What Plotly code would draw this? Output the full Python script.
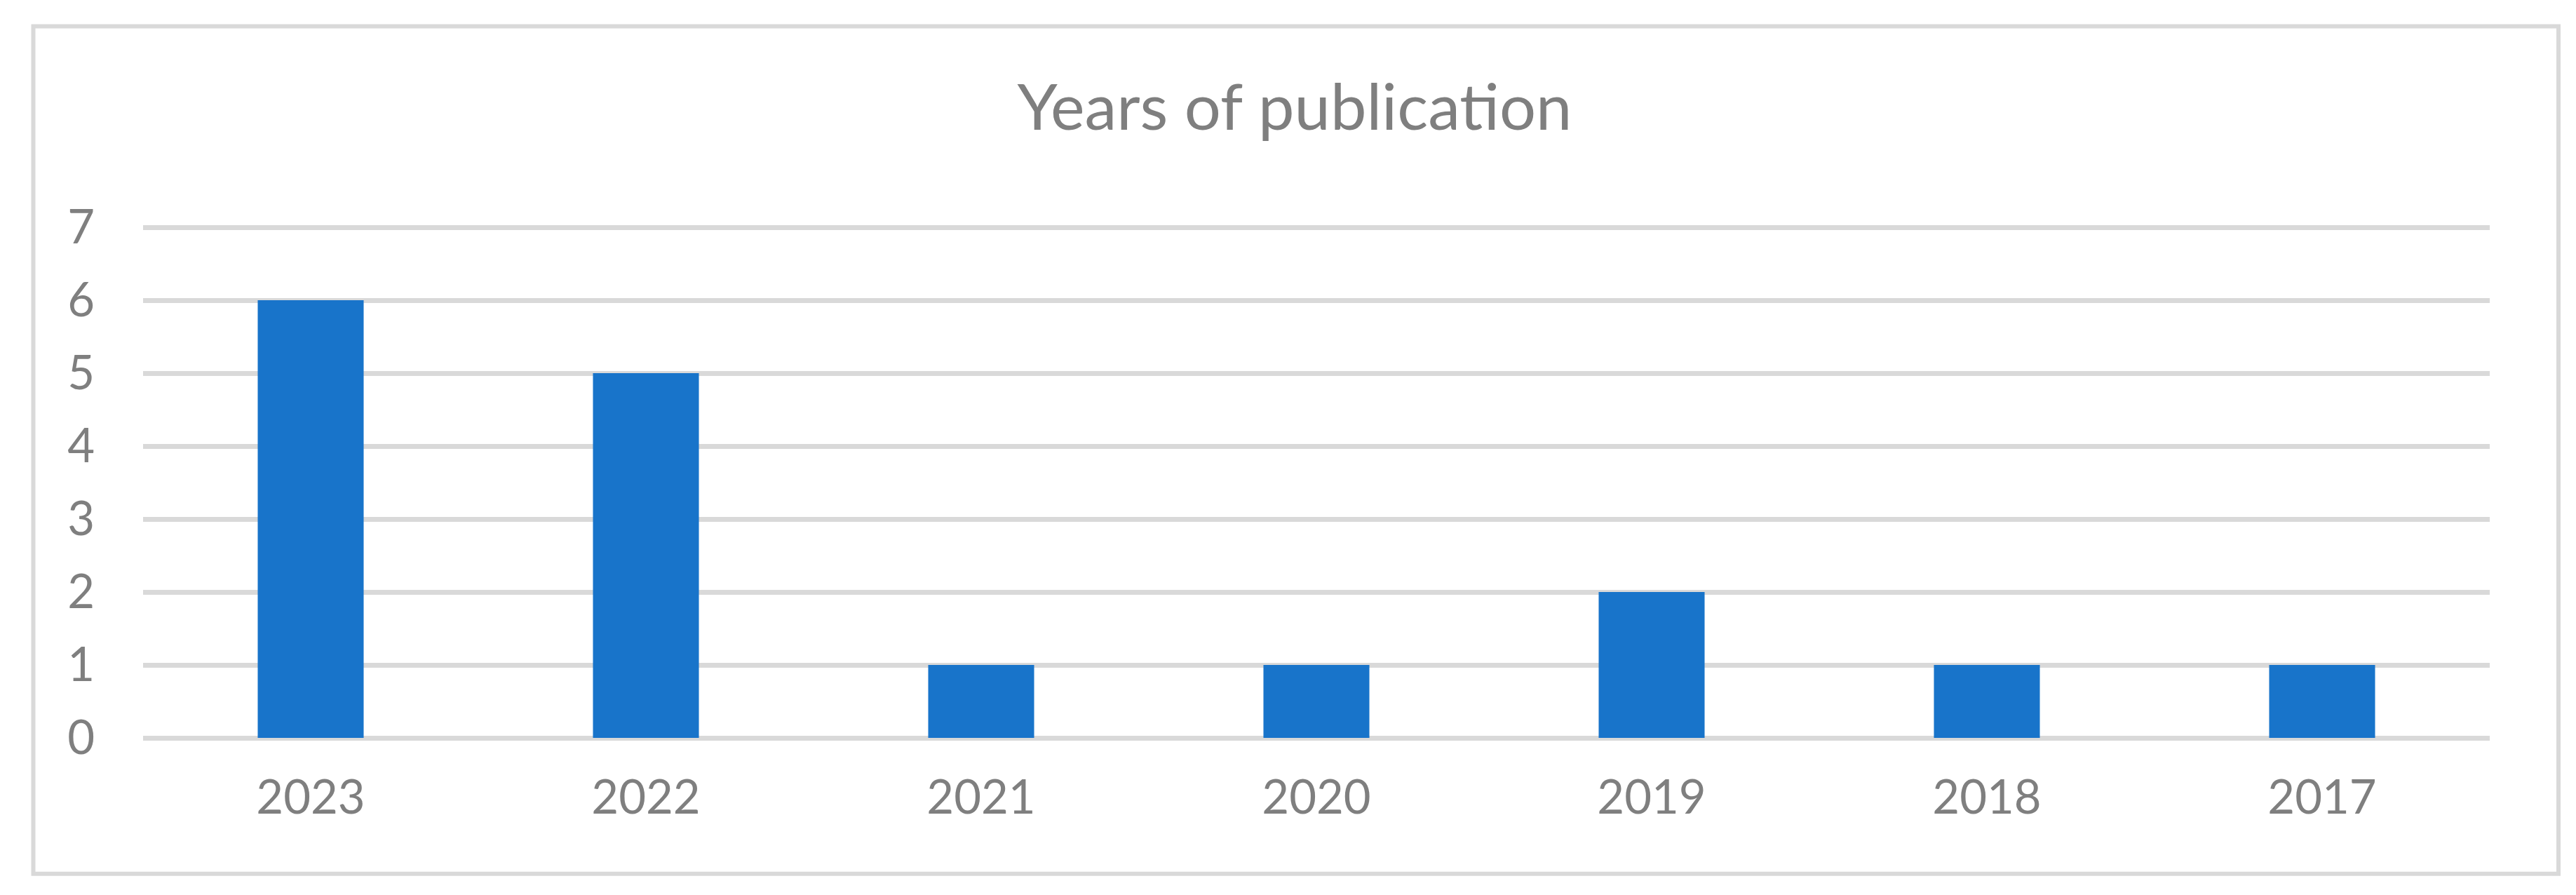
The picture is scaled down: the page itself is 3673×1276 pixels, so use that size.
import plotly.graph_objects as go

years = ["2023", "2022", "2021", "2020", "2019", "2018", "2017"]
counts = [6, 5, 1, 1, 2, 1, 1]
y_ticks = [0, 1, 2, 3, 4, 5, 6, 7]

W, H = 3673, 1276
L, R = 196, 3542          # plot area horizontal extent (px)
Y0_PX, Y7_PX = 1044.5, 315.5  # pixel rows of value 0 and value 7
UNIT = (Y0_PX - Y7_PX) / 7.0
PAD_PX = 3.0
PAD = PAD_PX / UNIT
T = Y7_PX - PAD_PX
B = Y0_PX + PAD_PX

def px_x(x):
    return (x - L) / (R - L)

def px_y(y):
    return (B - y) / (B - T)

fig = go.Figure(go.Bar(x=years, y=counts, marker=dict(color="#1874CA", line=dict(width=0)),
                       width=0.316))

fig.update_layout(
    width=W, height=H,
    margin=dict(l=L, r=W - R, t=T, b=H - B, pad=0),
    paper_bgcolor="white", plot_bgcolor="white",
    showlegend=False,
    font=dict(family="Lato, 'Open Sans', sans-serif", color="#7F7F7F"),
    title=dict(text="Years of publication", x=px_x(1838) * (R - L) / W + L / W,
               xanchor="center",
               yref="container", y=(H - 145) / H, yanchor="middle",
               font=dict(size=92, color="#7F7F7F")),
    xaxis=dict(type="category", showgrid=False, zeroline=False, showline=False,
               ticks="", tickfont=dict(size=67, color="#7F7F7F"), ticklabelstandoff=37),
    yaxis=dict(range=[-PAD, 7 + PAD], tickvals=y_ticks, showgrid=True, gridcolor="#D9D9D9",
               gridwidth=7, zeroline=False, showline=False, ticks="",
               tickfont=dict(size=67, color="#7F7F7F"), ticklabelstandoff=68),
    shapes=[dict(type="rect", xref="paper", yref="paper",
                 x0=px_x(39.5), x1=px_x(3640), y0=px_y(1238.5), y1=px_y(28.5),
                 line=dict(color="#D9D9D9", width=6), fillcolor="rgba(0,0,0,0)",
                 layer="below")],
)

fig.write_html("out.html")
